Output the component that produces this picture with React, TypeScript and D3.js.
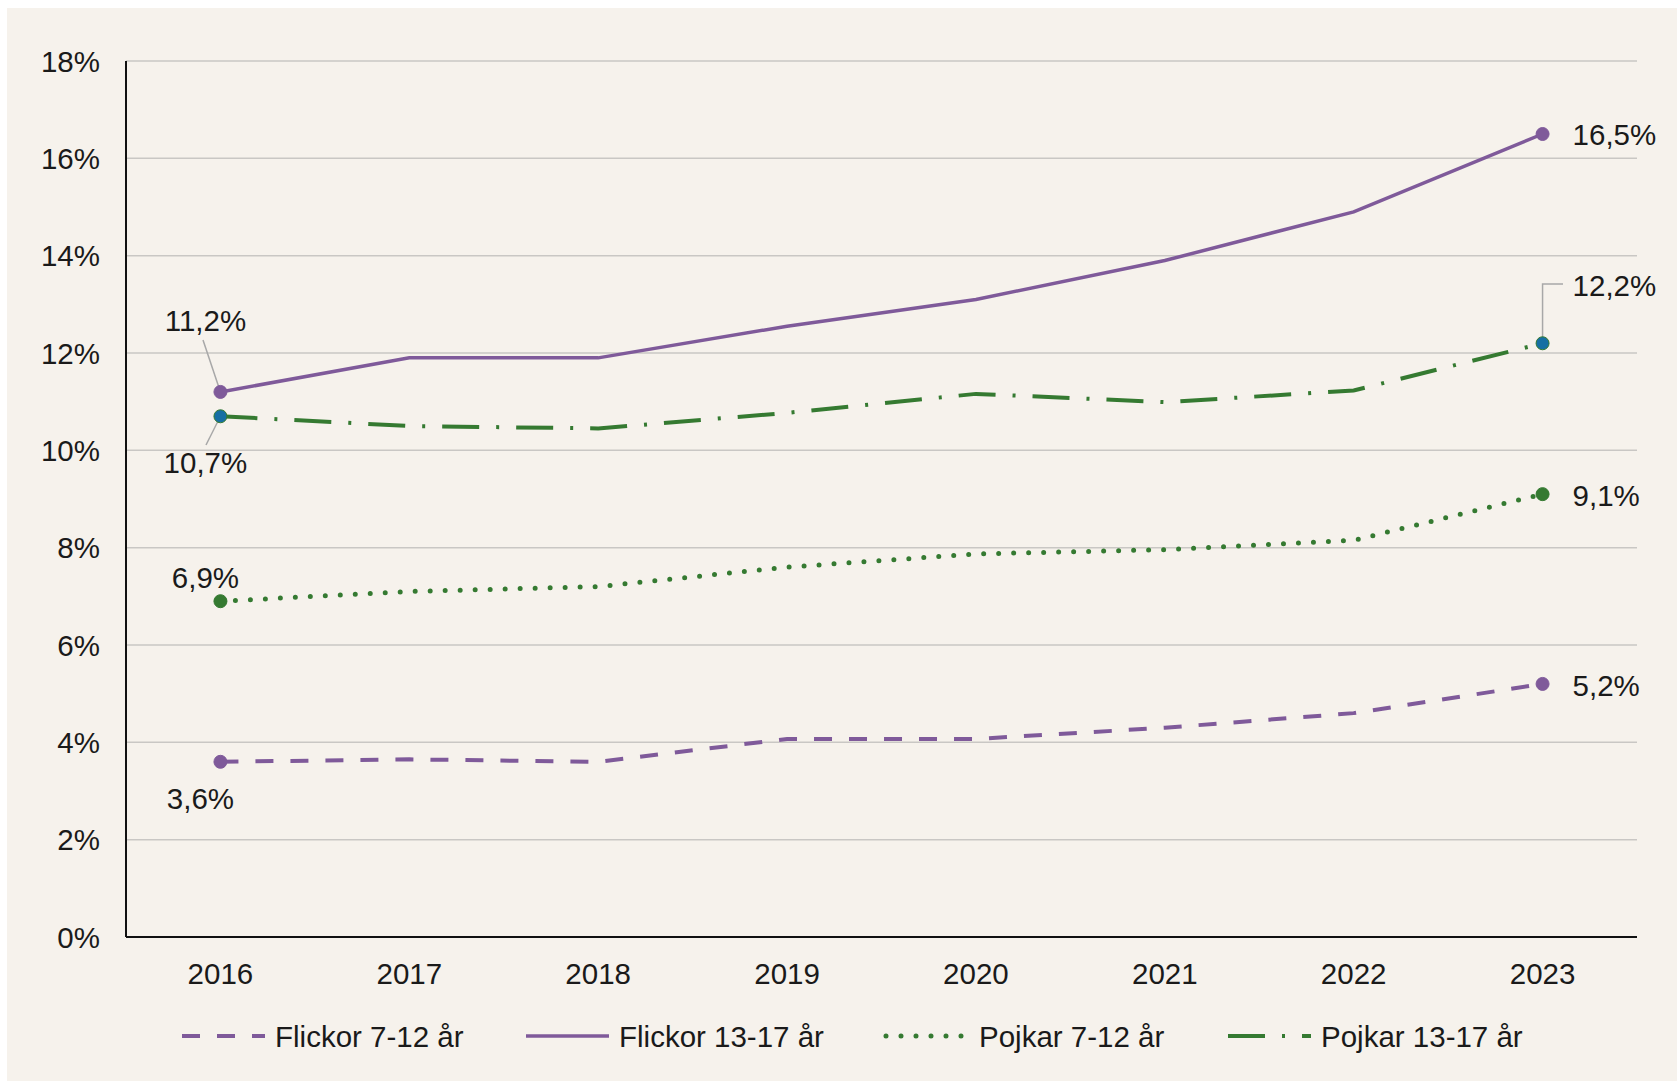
import * as d3 from 'd3'

const years = ['2016', '2017', '2018', '2019', '2020', '2021', '2022', '2023']
const yTicks = [0, 2, 4, 6, 8, 10, 12, 14, 16, 18]

const flickor712 = [3.6, 3.65, 3.6, 4.07, 4.07, 4.3, 4.6, 5.2]
const flickor1317 = [11.2, 11.9, 11.9, 12.55, 13.1, 13.9, 14.9, 16.5]
const pojkar712 = [6.9, 7.1, 7.2, 7.6, 7.87, 7.96, 8.15, 9.1]
const pojkar1317 = [10.7, 10.5, 10.45, 10.77, 11.16, 10.99, 11.23, 12.2]

const purple = '#7f5a9a'
const green = '#357a31'
const blue = '#166fa3'

const series = [
  { name: 'Flickor 7-12 år', values: flickor712, color: purple, dash: '18 17', width: 4, marker: purple },
  { name: 'Flickor 13-17 år', values: flickor1317, color: purple, dash: null, width: 3.5, marker: purple },
  { name: 'Pojkar 7-12 år', values: pojkar712, color: green, dash: '0 15', width: 5, marker: green },
  { name: 'Pojkar 13-17 år', values: pojkar1317, color: green, dash: '37 17 3 17', width: 4, marker: blue },
]

const W = 1677
const H = 1081
const left = 126
const right = 1637
const top = 61
const bottom = 937
const font = 'Liberation Sans, Arial, sans-serif'
const fs = 29.5

const fmt = (v: number) => v.toFixed(1).replace('.', ',') + '%'

const App = () => {
  const x = d3.scaleBand().domain(years).range([left, right])
  const cx = (yr: string) => (x(yr) as number) + x.bandwidth() / 2
  const y = d3.scaleLinear().domain([0, 18]).range([bottom, top])

  const line = d3
    .line<number>()
    .x((_, i) => cx(years[i]))
    .y((d) => y(d))

  const first = years[0]
  const last = years[years.length - 1]

  // endpoint labels: [series index, point index, dx, dy, anchor]
  const labels: [number, number, number, number, string][] = [
    [0, 0, -20, 37, 'middle'],
    [0, 7, 30, 2, 'start'],
    [1, 0, -15, -71, 'middle'],
    [1, 7, 30, 0, 'start'],
    [2, 0, -15, -24, 'middle'],
    [2, 7, 30, 1, 'start'],
    [3, 0, -15, 46, 'middle'],
    [3, 7, 30, -58, 'start'],
  ]

  const legendX = [182, 526, 886, 1228]
  const legendY = 1036

  return (
    <div style={{ position: 'absolute', left: 0, top: 0 }}>
      <svg width={W} height={H} style={{ display: 'block' }}>
        <rect x={0} y={0} width={W} height={H} fill='#ffffff' />
        <rect x={7} y={8} width={W - 7} height={H - 8} fill='#f6f2ec' />

        {yTicks.map((t) => (
          <g key={t}>
            {t > 0 && (
              <line x1={left} x2={right} y1={y(t)} y2={y(t)} stroke='#c9c7c4' strokeWidth={1.5} />
            )}
            <text
              x={100}
              y={y(t)}
              textAnchor='end'
              dominantBaseline='central'
              fontFamily={font}
              fontSize={fs}
              fill='#1a1a1a'
            >
              {t}%
            </text>
          </g>
        ))}

        <line x1={left} x2={left} y1={top} y2={bottom} stroke='#111' strokeWidth={2} />
        <line x1={left} x2={right} y1={bottom} y2={bottom} stroke='#111' strokeWidth={2} />

        {years.map((yr) => (
          <text
            key={yr}
            x={cx(yr)}
            y={973}
            textAnchor='middle'
            dominantBaseline='central'
            fontFamily={font}
            fontSize={fs}
            fill='#1a1a1a'
          >
            {yr}
          </text>
        ))}

        {/* leader lines */}
        <line x1={203} y1={340} x2={cx(first)} y2={y(flickor1317[0])} stroke='#a8a8a8' strokeWidth={1.5} />
        <line x1={206} y1={445} x2={cx(first)} y2={y(pojkar1317[0])} stroke='#a8a8a8' strokeWidth={1.5} />
        <polyline
          points={`1563,284 ${cx(last)},284 ${cx(last)},${y(pojkar1317[7])}`}
          fill='none'
          stroke='#a8a8a8'
          strokeWidth={1.5}
        />

        {series.map((s) => (
          <g key={s.name}>
            <path
              d={line(s.values) as string}
              fill='none'
              stroke={s.color}
              strokeWidth={s.width}
              strokeDasharray={s.dash ?? undefined}
              strokeLinecap={s.dash === '0 15' ? 'round' : 'butt'}
            />
            {[0, s.values.length - 1].map((i) => (
              <circle
                key={i}
                cx={cx(years[i])}
                cy={y(s.values[i])}
                r={6.5}
                fill={s.marker}
                stroke={s.color}
                strokeWidth={1}
              />
            ))}
          </g>
        ))}

        {labels.map(([si, pi, dx, dy, anchor]) => {
          const v = series[si].values[pi]
          return (
            <text
              key={si + '-' + pi}
              x={cx(years[pi]) + dx}
              y={y(v) + dy}
              textAnchor={anchor}
              dominantBaseline='central'
              fontFamily={font}
              fontSize={fs}
              fill='#1a1a1a'
            >
              {fmt(v)}
            </text>
          )
        })}

        {series.map((s, i) => (
          <g key={'lg' + s.name}>
            <line
              x1={legendX[i]}
              x2={legendX[i] + 83}
              y1={legendY}
              y2={legendY}
              stroke={s.color}
              strokeWidth={s.width}
              strokeDasharray={s.dash ?? undefined}
              strokeLinecap={s.dash === '0 15' ? 'round' : 'butt'}
            />
            <text
              x={legendX[i] + 93}
              y={legendY}
              dominantBaseline='central'
              fontFamily={font}
              fontSize={fs}
              fill='#1a1a1a'
            >
              {s.name}
            </text>
          </g>
        ))}
      </svg>
    </div>
  )
}

export default App
